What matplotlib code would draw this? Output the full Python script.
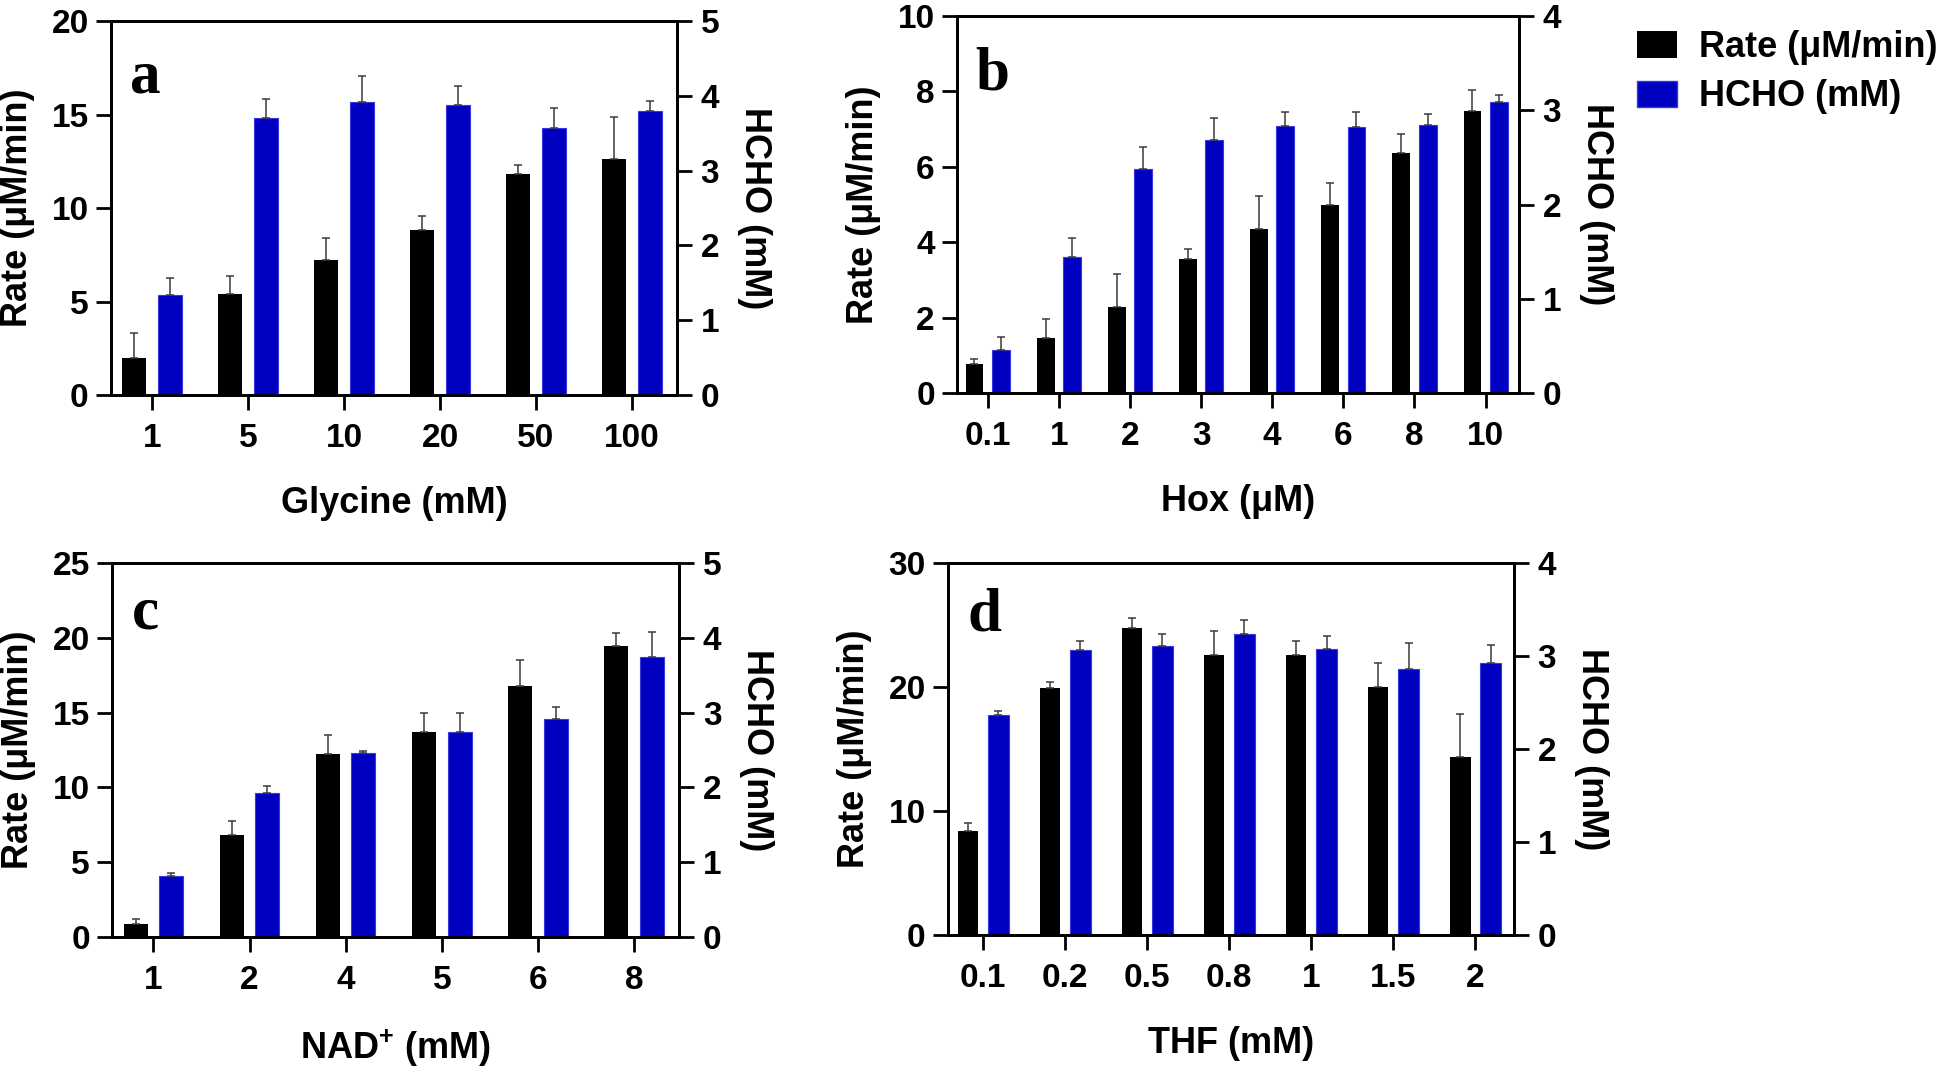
import numpy as np
import matplotlib
matplotlib.use('Agg')
import matplotlib.pyplot as plt
from matplotlib.patches import Patch

# Fonts: Arial-like bold text everywhere, Times-like panel letters
plt.rcParams['font.family'] = ['Liberation Sans', 'DejaVu Sans']
plt.rcParams['font.weight'] = 'bold'
plt.rcParams['axes.labelweight'] = 'bold'
plt.rcParams['mathtext.fontset'] = 'custom'
plt.rcParams['mathtext.rm'] = 'Liberation Sans:bold'
plt.rcParams['mathtext.bf'] = 'Liberation Sans:bold'

# Panel a - glycine
gly_labels = ['1', '5', '10', '20', '50', '100']
gly_rate = [2.0, 5.4, 7.2, 8.8, 11.8, 12.6]
gly_rate_err = [1.3, 0.95, 1.2, 0.75, 0.5, 2.25]
gly_hcho = [1.34, 3.70, 3.92, 3.88, 3.57, 3.80]
gly_hcho_err = [0.23, 0.26, 0.35, 0.25, 0.27, 0.13]

# Panel b - Hox
hox_labels = ['0.1', '1', '2', '3', '4', '6', '8', '10']
hox_rate = [0.78, 1.45, 2.28, 3.56, 4.35, 5.0, 6.36, 7.47]
hox_rate_err = [0.12, 0.51, 0.88, 0.27, 0.87, 0.58, 0.5, 0.56]
hox_hcho = [0.46, 1.44, 2.38, 2.68, 2.83, 2.82, 2.84, 3.09]
hox_hcho_err = [0.13, 0.2, 0.23, 0.24, 0.15, 0.16, 0.12, 0.07]

# Panel c - NAD+
nad_labels = ['1', '2', '4', '5', '6', '8']
nad_rate = [0.87, 6.82, 12.24, 13.7, 16.79, 19.46]
nad_rate_err = [0.3, 0.94, 1.26, 1.28, 1.72, 0.89]
nad_hcho = [0.81, 1.92, 2.46, 2.74, 2.91, 3.74]
nad_hcho_err = [0.05, 0.1, 0.03, 0.26, 0.17, 0.34]

# Panel d - THF
thf_labels = ['0.1', '0.2', '0.5', '0.8', '1', '1.5', '2']
thf_rate = [8.42, 19.89, 24.77, 22.59, 22.59, 19.97, 14.39]
thf_rate_err = [0.63, 0.49, 0.79, 1.91, 1.12, 1.99, 3.4]
thf_hcho = [2.37, 3.06, 3.11, 3.24, 3.08, 2.86, 2.92]
thf_hcho_err = [0.04, 0.1, 0.13, 0.15, 0.14, 0.28, 0.2]

rate_color = '#000000'
hcho_color = '#0000C0'
tick_size = 24
label_size = 26
bar_width = 0.25
offset = 0.185


def draw_panel(rect, letter, labels, rate, rate_err, hcho, hcho_err,
               xlabel, rate_max, rate_step, hcho_max, letter_pos):
    ax = fig.add_axes(rect)
    ax2 = ax.twinx()
    x = np.arange(len(labels))
    err_kw = dict(ecolor='#3a3a3a', elinewidth=1.1, capsize=3.2, capthick=1.1)

    # Black bars on the left axis, blue bars on the right axis
    ax.bar(x - offset, rate, bar_width, color=rate_color,
           yerr=[np.zeros(len(rate)), rate_err], error_kw=err_kw)
    ax2.bar(x + offset, hcho, bar_width, color=hcho_color, edgecolor='#3838e0',
            linewidth=0.8, yerr=[np.zeros(len(hcho)), hcho_err], error_kw=err_kw)

    ax.set_xlim(-0.43, len(labels) - 0.53)
    ax.set_ylim(0, rate_max)
    ax2.set_ylim(0, hcho_max)
    ax.set_yticks(np.arange(0, rate_max + 0.01, rate_step))
    ax2.set_yticks(np.arange(0, hcho_max + 0.01, 1))
    ax.set_xticks(x)
    ax.set_xticklabels(labels)

    for a in (ax, ax2):
        for s in a.spines.values():
            s.set_linewidth(2.0)
    ax.tick_params(axis='x', length=11, width=2.0, pad=9, labelsize=tick_size)
    ax.tick_params(axis='y', length=11, width=2.0, pad=5, labelsize=tick_size)
    ax2.tick_params(axis='y', length=11, width=2.0, pad=6, labelsize=tick_size)

    ax.set_xlabel(xlabel, fontsize=label_size, labelpad=23)
    ax.set_ylabel('Rate (μM/min)', fontsize=label_size, labelpad=12)
    ax2.set_ylabel('HCHO (mM)', fontsize=label_size, rotation=270,
                   va='bottom', labelpad=13)

    ax.text(letter_pos[0], letter_pos[1], letter, transform=ax.transAxes,
            fontsize=44, fontweight='bold', family='Liberation Serif',
            ha='left', va='baseline')
    return ax


fig = plt.figure(figsize=(19.46, 10.77), dpi=100)

draw_panel([0.0570, 0.6332, 0.2909, 0.3473], 'a', gly_labels, gly_rate,
           gly_rate_err, gly_hcho, gly_hcho_err, 'Glycine (mM)', 20, 5, 5,
           (0.034, 0.81))
draw_panel([0.4918, 0.6351, 0.2888, 0.3500], 'b', hox_labels, hox_rate,
           hox_rate_err, hox_hcho, hox_hcho_err, 'Hox (μM)', 10, 2, 4,
           (0.032, 0.804))
draw_panel([0.0576, 0.1300, 0.2914, 0.3473], 'c', nad_labels, nad_rate,
           nad_rate_err, nad_hcho, nad_hcho_err, r'NAD$^{+}$ (mM)', 25, 5, 5,
           (0.035, 0.826))
draw_panel([0.4871, 0.1318, 0.2909, 0.3454], 'd', thf_labels, thf_rate,
           thf_rate_err, thf_hcho, thf_hcho_err, 'THF (mM)', 30, 10, 4,
           (0.035, 0.82))

# Shared legend at the top right
handles = [Patch(facecolor=rate_color, label='Rate (μM/min)'),
           Patch(facecolor=hcho_color, edgecolor='#3838e0', label='HCHO (mM)')]
fig.legend(handles=handles, loc='upper left', bbox_to_anchor=(1637 / 1946, 1 - 30 / 1077),
           frameon=False, fontsize=label_size, handlelength=1.1, handleheight=0.75,
           handletextpad=0.62, labelspacing=0.4, borderpad=0, borderaxespad=0)

plt.savefig('out.png', dpi=100)
